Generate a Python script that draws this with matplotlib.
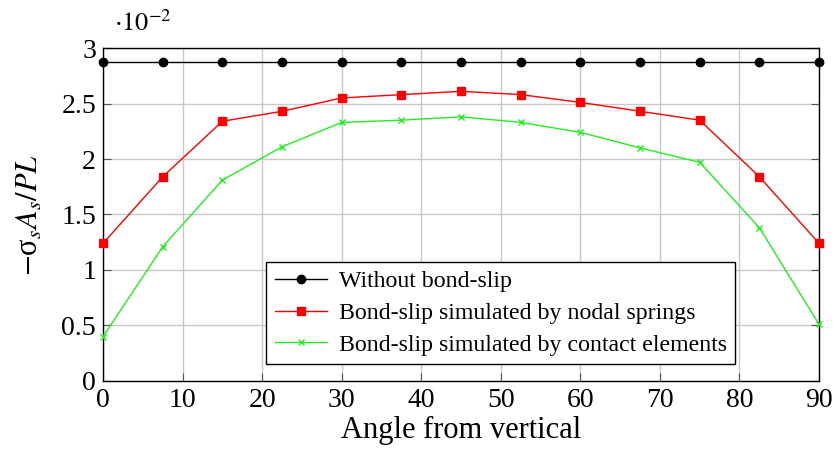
import matplotlib
matplotlib.use("Agg")
import matplotlib.pyplot as plt

# angle from vertical (degrees)
angles = [0, 7.5, 15, 22.5, 30, 37.5, 45, 52.5, 60, 67.5, 75, 82.5, 90]

# -sigma_s A_s / PL  (x 1e-2)
without_slip = [2.87] * 13
nodal_springs = [1.24, 1.84, 2.34, 2.43, 2.55, 2.58, 2.61, 2.58, 2.51, 2.43, 2.35, 1.84, 1.24]
contact_elems = [0.40, 1.21, 1.81, 2.11, 2.33, 2.35, 2.38, 2.33, 2.24, 2.10, 1.97, 1.38, 0.51]

plt.rcParams['font.family'] = ['Liberation Serif', 'DejaVu Serif']
plt.rcParams['mathtext.fontset'] = 'stix'

fig = plt.figure(figsize=(8.34, 4.53), dpi=100)
ax = fig.add_axes([0.1235, 0.159, 0.8585, 0.735])

scale = 1e-2
ax.plot(angles, [v * scale for v in without_slip], color='black', marker='o',
        markersize=6, linewidth=1, label='Without bond-slip', clip_on=False, zorder=3)
ax.plot(angles, [v * scale for v in nodal_springs], color='red', marker='s',
        markersize=6, linewidth=1, label='Bond-slip simulated by nodal springs', clip_on=False, zorder=3)
ax.plot(angles, [v * scale for v in contact_elems], color='#22ee22', marker='x',
        markersize=4, linewidth=1, label='Bond-slip simulated by contact elements', clip_on=False, zorder=3)

ax.set_xlim(0, 90)
ax.set_ylim(0, 0.03)
ax.set_xticks(range(0, 91, 10))
ax.set_yticks([0, 0.005, 0.01, 0.015, 0.02, 0.025, 0.03])
ax.set_yticklabels(['0', '0.5', '1', '1.5', '2', '2.5', '3'])
ax.grid(True, color='#c8c8c8', linewidth=1)
ax.set_axisbelow(True)
ax.tick_params(direction='in', length=6, width=0.8, color='#555555',
               labelsize=20, right=True, top=False, pad=5)

ax.text(0.015, 1.035, r'$\cdot 10^{-2}$', transform=ax.transAxes, fontsize=19,
        ha='left', va='bottom')

ax.set_xlabel('Angle from vertical', fontsize=22, labelpad=2)
ax.set_ylabel(r'$-$σ$_s A_s/PL$', fontsize=22, labelpad=12)

for s in ax.spines.values():
    s.set_linewidth(1)

leg = ax.legend(loc='lower right', bbox_to_anchor=(0.9, 0.015), fontsize=17.2,
                frameon=True, fancybox=False, edgecolor='black', framealpha=1,
                handlelength=2.2, borderpad=0.35, labelspacing=0.42, handletextpad=0.5)
leg.get_frame().set_linewidth(1)

fig.savefig('out.png', dpi=100)
